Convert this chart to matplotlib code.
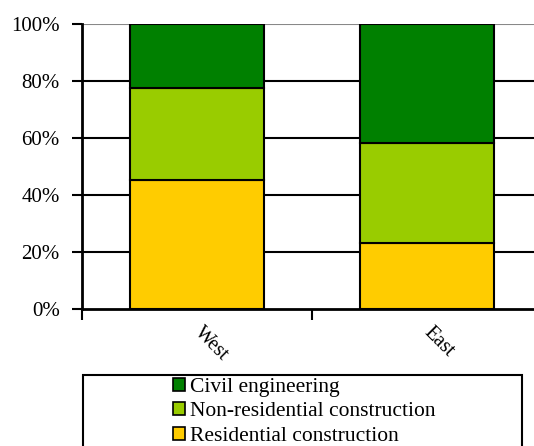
import matplotlib
matplotlib.use("Agg")
import matplotlib.pyplot as plt
from matplotlib.patches import Rectangle, Patch

plt.rcParams['font.family'] = ['Liberation Serif', 'DejaVu Serif']

categories = ["West", "East"]
residential = [45.3, 23.0]
non_residential = [32.4, 35.1]
civil = [22.3, 41.9]
series_names = ["Residential construction", "Non-residential construction", "Civil engineering"]
colors = ["#FFCC00", "#99CC00", "#008000"]
y_ticks = [0, 20, 40, 60, 80, 100]
y_labels = ["0%", "20%", "40%", "60%", "80%", "100%"]

W, H = 534, 446
fig = plt.figure(figsize=(W / 100, H / 100), dpi=100)
ax = fig.add_axes([82 / W, (H - 309) / H, (542 - 82) / W, (309 - 24) / H])

x = list(range(len(categories)))
bottom = [0.0] * len(categories)
for vals, col in zip([residential, non_residential, civil], colors):
    ax.bar(x, vals, width=0.58, bottom=bottom, color=col, edgecolor="black", linewidth=1.5, zorder=3)
    bottom = [b + v for b, v in zip(bottom, vals)]

ax.set_xlim(-0.5, 1.5)
ax.set_ylim(0, 100)
ax.set_yticks(y_ticks)
ax.set_yticklabels(y_labels)
for yv in y_ticks[1:-1]:
    ax.axhline(yv, color="black", lw=1.5, zorder=1)
ax.axhline(100, color="#888888", lw=1.5, zorder=1)

ax.set_xticks(x)
ax.set_xticklabels(categories, rotation=-45, ha="left", va="center", rotation_mode="anchor")
ax.set_xticks([-0.5, 0.5, 1.5], minor=True)
ax.tick_params(axis="x", which="major", length=0, pad=15, labelsize=14.5)
ax.tick_params(axis="x", which="minor", length=8, width=1.5, direction="out")
ax.tick_params(axis="y", length=7, width=1.5, direction="out", pad=9, labelsize=15)

for s in ["top", "right"]:
    ax.spines[s].set_visible(False)
ax.spines["left"].set_linewidth(2)
ax.spines["bottom"].set_linewidth(2)

# legend frame
fig.patches.append(Rectangle((83 / W, -0.1), (522 - 83) / W, (H - 375) / H + 0.1,
                             transform=fig.transFigure, fill=False, edgecolor="black", lw=1.5))
handles = [Patch(facecolor=c, edgecolor="black", lw=1.2) for c in colors[::-1]]
fig.legend(handles, series_names[::-1], loc="upper left", bbox_to_anchor=(173 / W, 1 - 378 / H),
           frameon=False, fontsize=15.5, handlelength=0.55, handleheight=0.55, handletextpad=0.25,
           labelspacing=0.24, borderpad=0, borderaxespad=0)

fig.savefig("out.png", dpi=100)
